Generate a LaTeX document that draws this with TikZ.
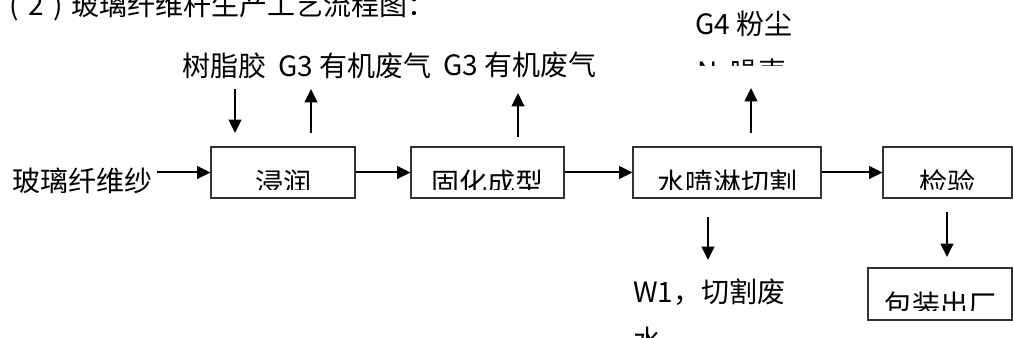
\documentclass[tikz,border=0pt]{standalone}
\usepackage{fontspec}
\setmainfont{Noto Sans CJK SC}
\usetikzlibrary{arrows.meta}
\begin{document}
\begin{tikzpicture}[x=0.75pt,y=-0.75pt,
  lbl/.style={inner sep=0pt, font=\fontsize{21}{25}\selectfont, anchor=base west},
  ctext/.style={inner sep=0pt, font=\fontsize{21}{25}\selectfont, anchor=base},
  procbox/.style={draw=black!80, line width=0.8pt, inner sep=0pt},
  flow/.style={line width=1.5pt, -{Triangle[length=10pt,width=9.5pt]}},
]
\useasboundingbox (0,0) rectangle (1013,338);

% title (top clipped by page edge)
\node[lbl] (title) at (0,16) {\makebox[1em][c]{(}2\makebox[1em][c]{)}玻璃纤维杆生产工艺流程图：};

% labels
\node[lbl] (src) at (12,192) {玻璃纤维纱};
\node[lbl] (resin) at (182,77) {树脂胶};
\node[lbl] (g3a) at (278,77) {G3 有机废气};
\node[lbl] (g3b) at (443,76) {G3 有机废气};
\node[lbl] (g4) at (695,35) {G4 粉尘};
\begin{scope}
  \clip (690,55) rectangle (820,66);
  \node[lbl] (noise) at (697,83) {N\ \ 噪声};
\end{scope}
\node[lbl, align=left, font=\fontsize{21}{36}\selectfont, anchor=base west] (w1) at (633,350) {W1，切割废\\水};

% process boxes
\node[procbox, minimum width=108pt, minimum height=38.25pt] (b1) at (283,172.5) {};
\node[procbox, minimum width=114.75pt, minimum height=38.25pt] (b2) at (487.5,172.5) {};
\node[procbox, minimum width=141pt, minimum height=38.25pt] (b3) at (727,172.5) {};
\node[procbox, minimum width=96.75pt, minimum height=38.25pt] (b4) at (947.5,172.5) {};
\node[procbox, minimum width=108pt, minimum height=39pt] (b5) at (940,294) {};

% box texts (lower part cut off as in the reference)
\begin{scope}
  \clip (211,147) rectangle (1013,190);
  \node[ctext] (t1) at (b1 |- 0,194) {浸润};
  \node[ctext] (t2) at (b2 |- 0,194) {固化成型};
  \node[ctext] (t3) at (b3 |- 0,194) {水喷淋切割};
  \node[ctext] (t4) at (b4 |- 0,194) {检验};
\end{scope}
\begin{scope}
  \clip (868,268) rectangle (1013,310);
  \node[ctext] (t5) at (b5 |- 0,315) {包装出厂};
\end{scope}

% horizontal flow
\draw[flow] ([xshift=3pt]src.east |- b1.west) -- (b1.west);
\draw[flow] (b1.east) -- (b2.west);
\draw[flow] (b2.east) -- (b3.west);
\draw[flow] (b3.east) -- (b4.west);

% vertical arrows
\coordinate (ra) at (235,89);  \coordinate (rb) at (235,133);
\coordinate (ga) at (311,133); \coordinate (gb) at (311,89);
\coordinate (gc) at (518,137); \coordinate (gd) at (518,93);
\coordinate (ge) at (751,133); \coordinate (gf) at (751,88);
\coordinate (wa) at (708,217); \coordinate (wb) at (708,260);
\coordinate (pa) at (947,212); \coordinate (pb) at (947,257);
\draw[flow] (ra) -- (rb);
\draw[flow] (ga) -- (gb);
\draw[flow] (gc) -- (gd);
\draw[flow] (ge) -- (gf);
\draw[flow] (wa) -- (wb);
\draw[flow] (pa) -- (pb);
\end{tikzpicture}
\end{document}
